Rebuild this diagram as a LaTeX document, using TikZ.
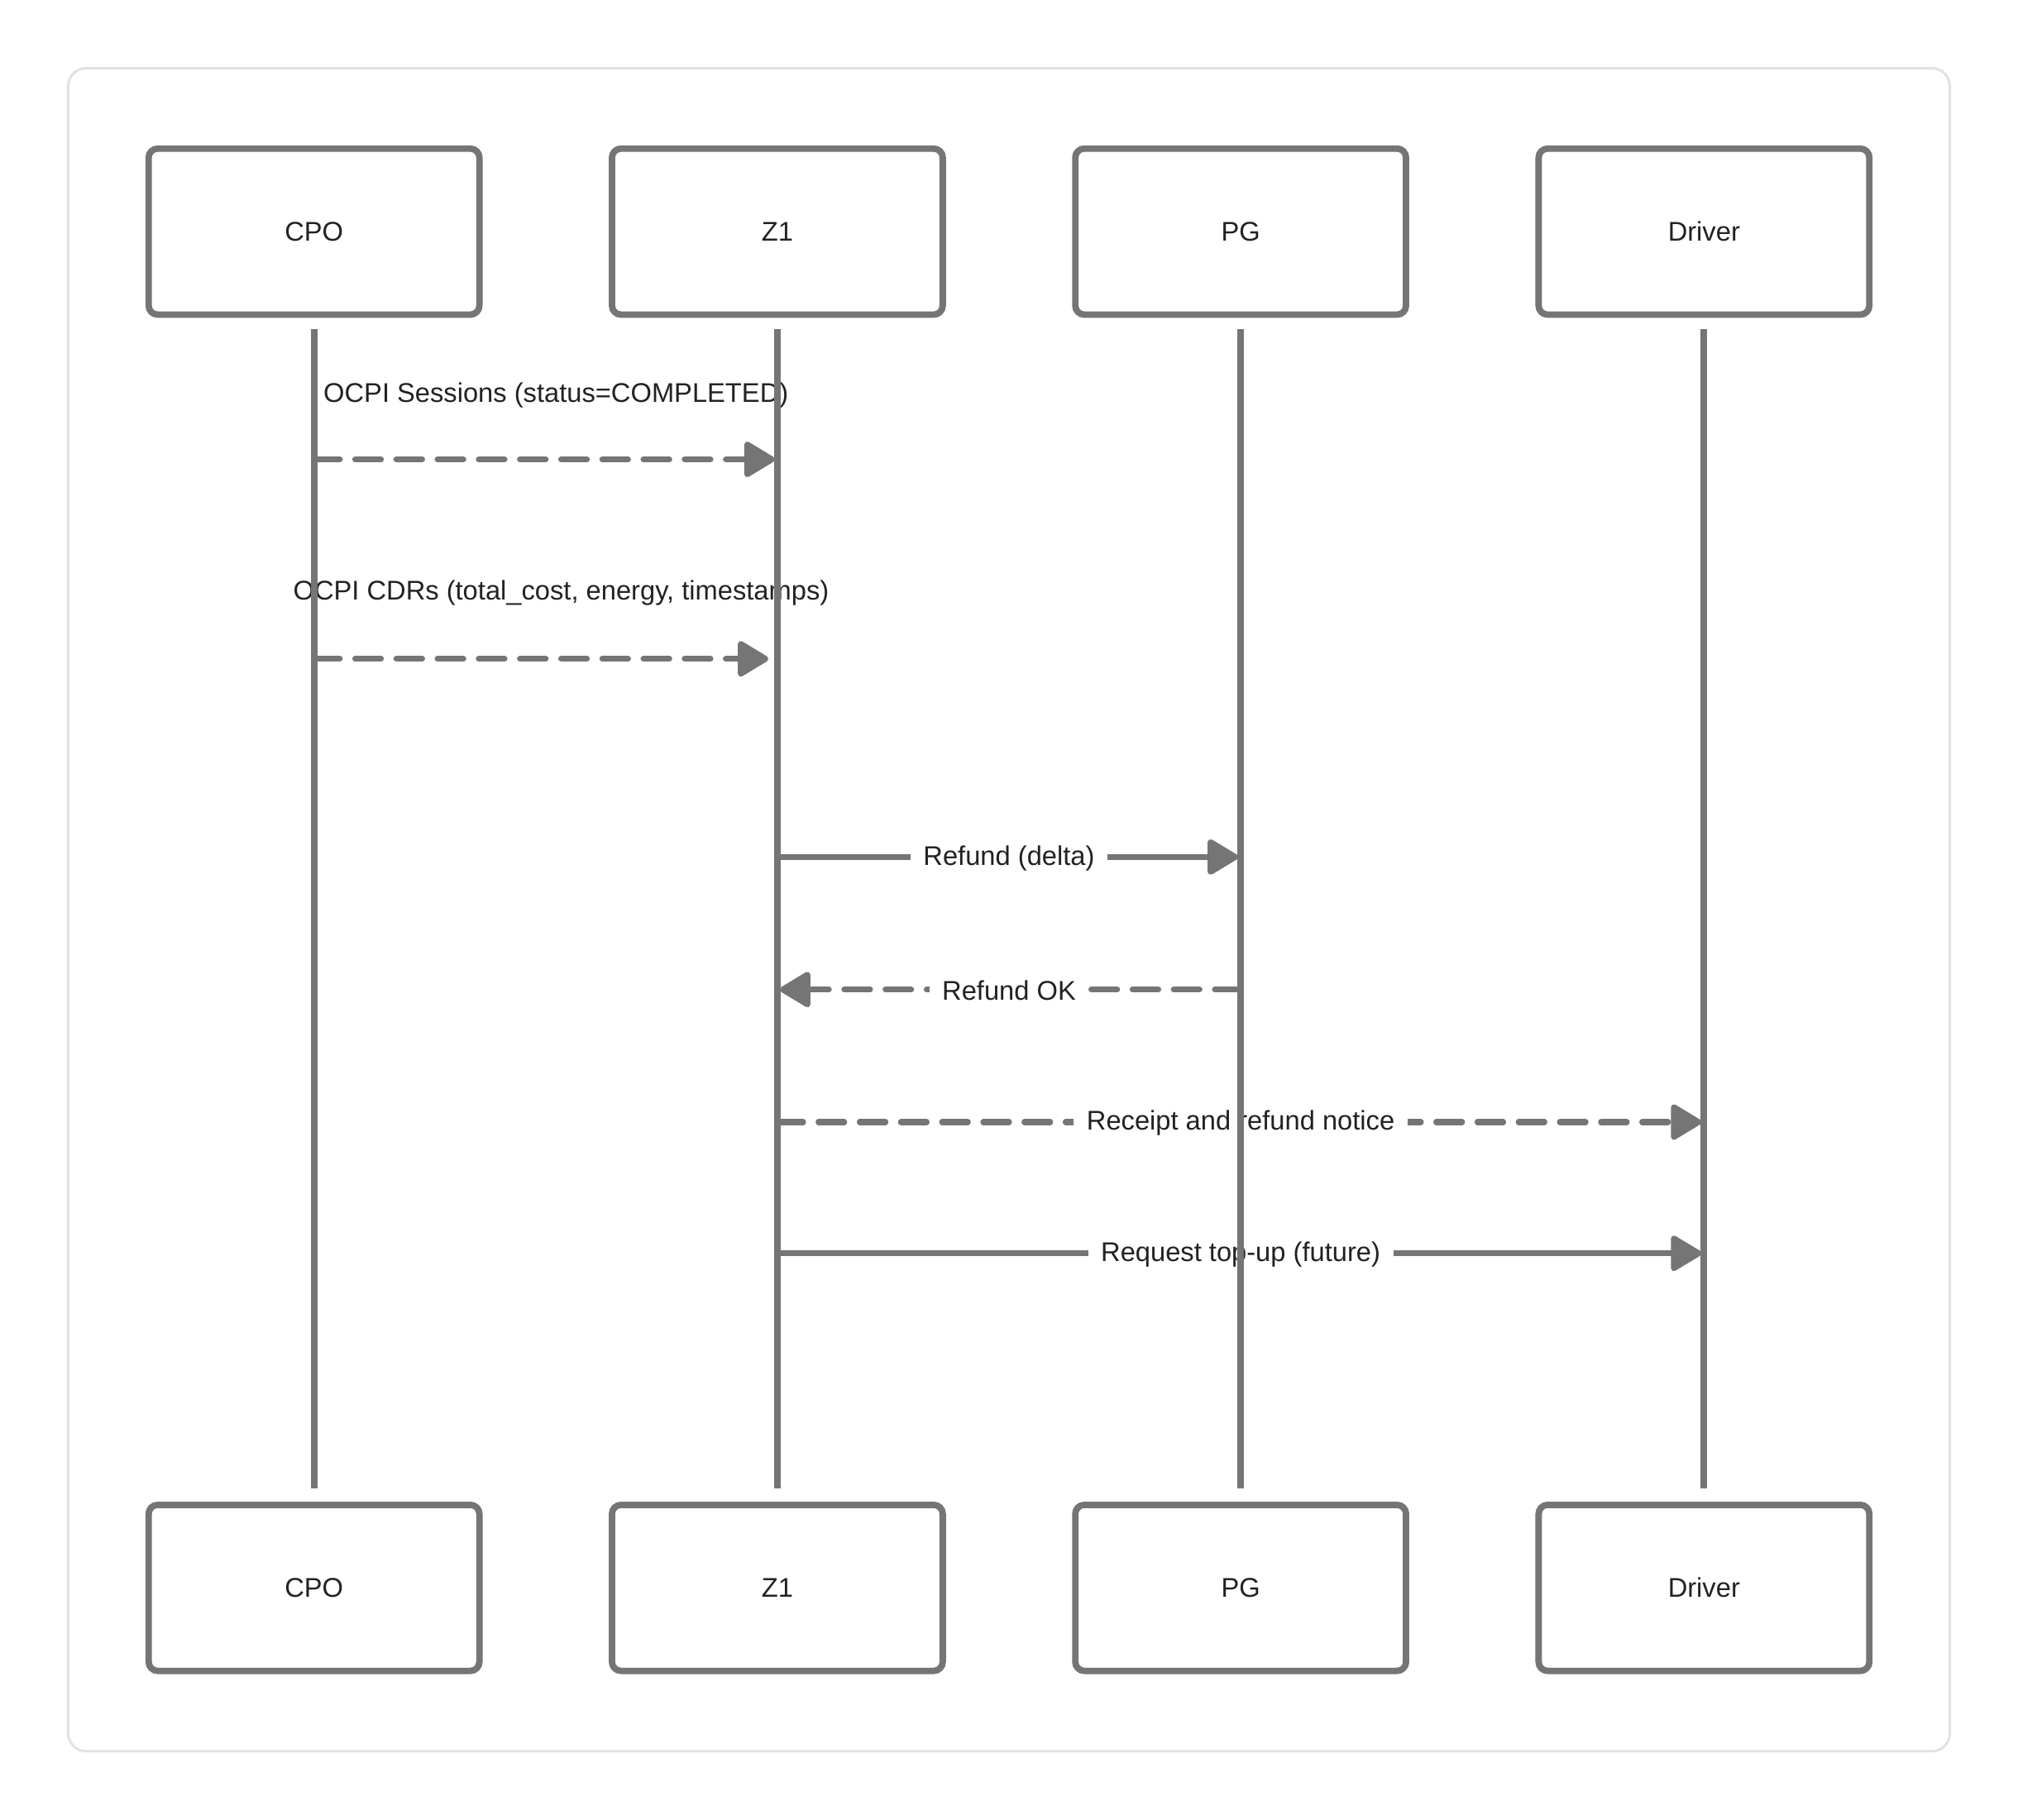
\documentclass[tikz,border=0pt]{standalone}
\usepackage{fontspec}
\setmainfont{Liberation Sans}
\usetikzlibrary{arrows.meta}

\definecolor{lineColor}{RGB}{117,117,117}
\definecolor{frameColor}{RGB}{226,226,226}
\definecolor{textColor}{RGB}{34,34,34}

\begin{document}
\begin{tikzpicture}[x=1pt,y=-1pt,
  actor/.style={draw=lineColor,line width=5pt,rounded corners=7pt,
    minimum width=257pt,minimum height=129pt,fill=white,
    text=textColor,font=\fontsize{21}{25}\selectfont},
  life/.style={draw=lineColor,line width=5pt},
  msg/.style={draw=lineColor,line width=4.6pt,
    -{Triangle[length=26pt,width=30pt,round]}},
  reply/.style={msg,dash pattern=on 20pt off 12pt,line cap=round},
  lbl/.style={text=textColor,font=\fontsize{21}{25}\selectfont},
  inl/.style={lbl,fill=white,inner xsep=10pt,inner ysep=3pt,yshift=-1pt}]
  \useasboundingbox (0,0) rectangle (1568,1414);
  \draw[frameColor,line width=2pt,rounded corners=14pt] (53,53) rectangle (1515,1361);
  % Participants
  \node[actor] (cpoTop) at (244,180) {CPO};
  \node[actor] (zoneTop) at (604,180) {Z1};
  \node[actor] (pgTop) at (964,180) {PG};
  \node[actor] (drvTop) at (1324,180) {Driver};
  \node[actor] (cpoBot) at (244,1234) {CPO};
  \node[actor] (zoneBot) at (604,1234) {Z1};
  \node[actor] (pgBot) at (964,1234) {PG};
  \node[actor] (drvBot) at (1324,1234) {Driver};
  % Messages
  \coordinate (sessFrom) at (cpoTop |- 0,357);
  \coordinate (sessTo) at (zoneTop |- 0,357);
  \draw[reply,shorten >=2pt] (sessFrom) -- (sessTo);
  \node[lbl] (sessLbl) at (432,307) {OCPI Sessions (status=COMPLETED)};
  \coordinate (cdrFrom) at (cpoTop |- 0,512);
  \coordinate (cdrTo) at (zoneTop |- 0,512);
  \draw[reply,shorten >=7pt] (cdrFrom) -- (cdrTo);
  \node[lbl] (cdrLbl) at (436,461) {OCPI CDRs (total\_cost, energy, timestamps)};
  \coordinate (refFrom) at (zoneTop |- 0,666);
  \coordinate (refTo) at (pgTop |- 0,666);
  \draw[msg,shorten >=2pt] (refFrom) -- node[inl] (refLbl) {Refund (delta)} (refTo);
  \coordinate (okFrom) at (pgTop |- 0,769);
  \coordinate (okTo) at (zoneTop |- 0,769);
  \draw[reply,shorten >=2pt] (okFrom) -- node[inl] (okLbl) {Refund OK} (okTo);
  \coordinate (rcptFrom) at (zoneTop |- 0,872);
  \coordinate (rcptTo) at (drvTop |- 0,872);
  \draw[reply,shorten >=2pt] (rcptFrom) -- node[inl] (rcptLbl) {Receipt and refund notice} (rcptTo);
  \coordinate (topFrom) at (zoneTop |- 0,974);
  \coordinate (topTo) at (drvTop |- 0,974);
  \draw[msg,shorten >=2pt] (topFrom) -- node[inl] (topLbl) {Request top-up (future)} (topTo);
  % Lifelines
  \draw[life,shorten <=9pt,shorten >=10pt] (cpoTop.south) -- (cpoBot.north);
  \draw[life,shorten <=9pt,shorten >=10pt] (zoneTop.south) -- (zoneBot.north);
  \draw[life,shorten <=9pt,shorten >=10pt] (pgTop.south) -- (pgBot.north);
  \draw[life,shorten <=9pt,shorten >=10pt] (drvTop.south) -- (drvBot.north);
\end{tikzpicture}
\end{document}
